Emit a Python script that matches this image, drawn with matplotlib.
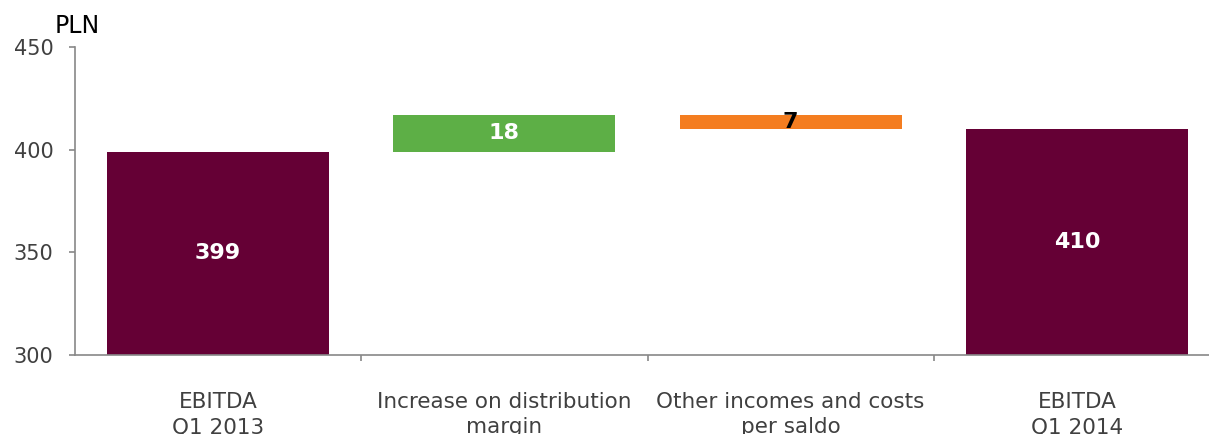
import matplotlib.pyplot as plt
from matplotlib.ticker import FixedLocator

plt.rcParams['font.family'] = ['DejaVu Sans']

categories = ['EBITDA\nQ1 2013', 'Increase on distribution\nmargin',
              'Other incomes and costs\nper saldo', 'EBITDA\nQ1 2014']
changes = [399, 18, -7, 410]
kinds = ['total', 'delta', 'delta', 'total']
colors = ['#650035', '#5DAF46', '#F47D20', '#650035']
label_colors = ['white', 'white', 'black', 'white']

# waterfall: totals start from the axis floor, deltas float on the running sum
y0 = 300
bottoms, heights = [], []
running = 0
for v, k in zip(changes, kinds):
    if k == 'total':
        bottoms.append(y0)
        heights.append(v - y0)
        running = v
    else:
        bottoms.append(running if v > 0 else running + v)
        heights.append(abs(v))
        running += v

W, H = 1209, 434
fig = plt.figure(figsize=(W / 100, H / 100), dpi=100)
ax = fig.add_axes([75 / W, 1 - 355 / H, (1220 - 75) / W, (355 - 47) / H])

xs = range(len(categories))
ax.bar(xs, heights, bottom=bottoms, width=0.775, color=colors)
for x, b, h, v, c in zip(xs, bottoms, heights, changes, label_colors):
    ax.text(x, b + h / 2, str(abs(v)), ha='center', va='center',
            color=c, fontsize=16, fontweight='bold')

ax.set_xlim(-0.5, 3.5)
ax.set_ylim(300, 450)
ax.set_yticks([300, 350, 400, 450])

ax.set_xticks(list(xs))
ax.set_xticklabels(categories, fontsize=15.5, color='#404040', linespacing=1.35)
ax.xaxis.set_minor_locator(FixedLocator([0.5, 1.5, 2.5]))
ax.tick_params(axis='x', which='major', length=0, pad=26.5)
ax.tick_params(axis='x', which='minor', length=4.5, color='#888888', width=1.2)
ax.tick_params(axis='y', length=4.5, color='#888888', width=1.2,
               labelsize=15, labelcolor='#404040', pad=11)

for s in ['top', 'right']:
    ax.spines[s].set_visible(False)
for s in ['left', 'bottom']:
    ax.spines[s].set_color('#888888')
    ax.spines[s].set_linewidth(1.2)

fig.text(55 / W, 1 - 26 / H, 'PLN', fontsize=17, color='black', va='center')

fig.savefig('out.png', dpi=100)
